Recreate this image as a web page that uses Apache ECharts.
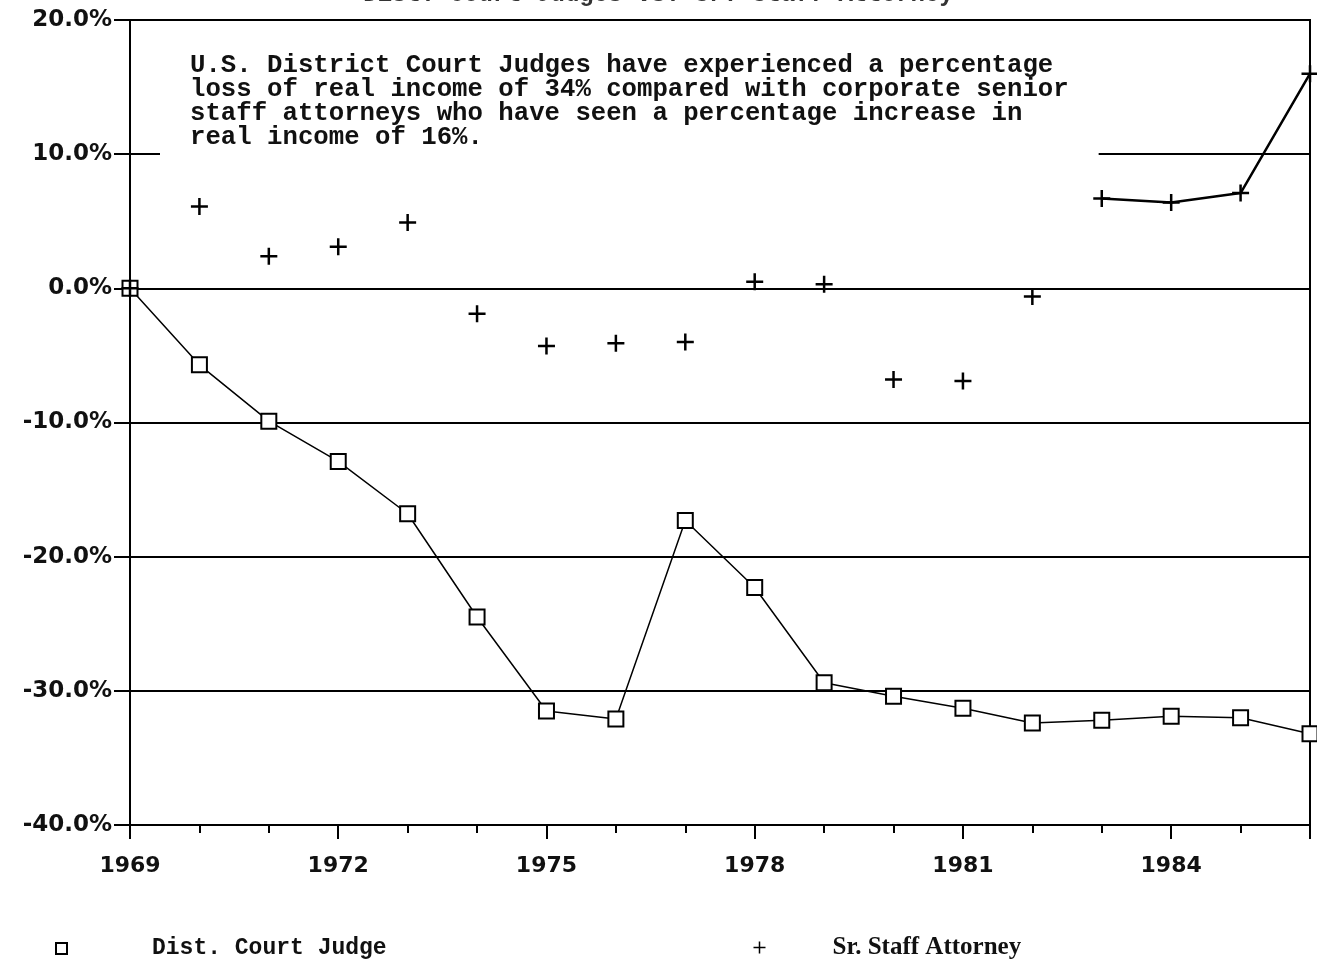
<!DOCTYPE html>
<html>
<head>
<meta charset="utf-8">
<script src="https://cdn.jsdelivr.net/npm/echarts@6/dist/echarts.min.js"></script>
<style>
  html, body { margin: 0; padding: 0; background: #fff; }
  #main { width: 1317px; height: 961px; }
</style>
</head>
<body>
<div id="main"></div>
<script>
  // years on the x axis
  var years = [1969, 1970, 1971, 1972, 1973, 1974, 1975, 1976, 1977,
    1978, 1979, 1980, 1981, 1982, 1983, 1984, 1985, 1986]
  // percentage change in real income
  var judge = [0, -5.7, -9.9, -12.9, -16.8, -24.5, -31.5, -32.1, -17.3,
    -22.3, -29.4, -30.4, -31.3, -32.4, -32.2, -31.9, -32.0, -33.2]
  var attorney = [0, 6.1, 2.4, 3.1, 4.9, -1.9, -4.3, -4.1, -4.0,
    0.5, 0.3, -6.8, -6.9, -0.6, 6.7, 6.4, 7.1, 16.0]
  // only the last stretch of the attorney line survived in the print
  var attorneyVisibleFrom = 1983
  var labelYears = [1969, 1972, 1975, 1978, 1981, 1984]
  var note = 'U.S. District Court Judges have experienced a percentage\n' +
    'loss of real income of 34% compared with corporate senior\n' +
    'staff attorneys who have seen a percentage increase in\n' +
    'real income of 16%.'

  var plusPath = 'path://M5,0 L5,10 M0,5 L10,5'

  function pairs(vals) {
    return years.map(function(y, i) {
      return [y, vals[i]]
    })
  }

  var attorneyTail = years.map(function(y, i) {
    return [y, y >= attorneyVisibleFrom ? attorney[i] : null]
  })

  var chart = echarts.init(document.getElementById('main'))
  chart.setOption({
    animation: false,
    backgroundColor: '#fff',
    title: [{
      text: 'Dist. Court Judges vs. Sr. Staff Attorney',
      left: 'center',
      top: -22,
      textStyle: {
        fontFamily: 'Liberation Mono',
        fontWeight: 'bold',
        fontSize: 24,
        color: '#333'
      }
    }, {
      text: note,
      left: 160,
      top: 50,
      padding: [4, 30, 12, 30],
      backgroundColor: '#fff',
      textStyle: {
        fontFamily: 'Liberation Mono',
        fontWeight: 'bold',
        fontSize: 25.7,
        lineHeight: 24,
        color: '#111'
      }
    }],
    legend: [{
      data: ['Dist. Court Judge'],
      left: 50,
      top: 932,
      icon: 'rect',
      itemWidth: 11,
      itemHeight: 11,
      itemStyle: { color: '#fff', borderColor: '#000', borderWidth: 2 },
      textStyle: {
        fontFamily: 'Liberation Mono',
        fontWeight: 'bold',
        fontSize: 23,
        color: '#111',
        padding: [0, 0, 0, 80]
      }
    }, {
      data: ['Sr. Staff Attorney'],
      left: 746,
      top: 930,
      icon: plusPath,
      itemWidth: 12,
      itemHeight: 14,
      itemStyle: { color: 'none', borderColor: '#000', borderWidth: 1.5 },
      textStyle: {
        fontFamily: 'Liberation Serif',
        fontWeight: 'bold',
        fontSize: 25,
        color: '#111',
        padding: [0, 0, 0, 62]
      }
    }],
    grid: {
      left: 130,
      right: 7,
      top: 20,
      bottom: 136,
      show: true,
      borderColor: '#000',
      borderWidth: 2
    },
    xAxis: [{
      type: 'value',
      min: 1969,
      max: 1986,
      interval: 1,
      axisLine: { onZero: false, lineStyle: { color: '#000', width: 2 } },
      axisTick: { length: 8, lineStyle: { color: '#000', width: 2 } },
      axisLabel: { show: false },
      splitLine: { show: false }
    }, {
      type: 'value',
      min: 1969,
      max: 1986,
      interval: 3,
      position: 'bottom',
      axisLine: { show: false, onZero: false },
      axisTick: { length: 14, lineStyle: { color: '#000', width: 2 } },
      axisLabel: {
        margin: 30,
        fontFamily: 'DejaVu Sans',
        fontWeight: 'bold',
        fontSize: 22,
        color: '#111',
        formatter: function(v) {
          return labelYears.indexOf(v) >= 0 ? String(v) : ''
        }
      },
      splitLine: { show: false }
    }],
    yAxis: {
      type: 'value',
      min: -40,
      max: 20,
      interval: 10,
      axisLine: { lineStyle: { color: '#000', width: 2 } },
      axisTick: { length: 16, lineStyle: { color: '#000', width: 2 } },
      axisLabel: {
        margin: 18,
        fontFamily: 'DejaVu Sans',
        fontWeight: 'bold',
        fontSize: 23,
        color: '#111',
        formatter: function(v) {
          return v.toFixed(1) + '%'
        }
      },
      splitLine: { lineStyle: { color: '#000', width: 2 } }
    },
    series: [{
      name: 'Dist. Court Judge',
      type: 'line',
      data: pairs(judge),
      symbol: 'rect',
      symbolSize: 15,
      itemStyle: { color: '#fff', borderColor: '#000', borderWidth: 2 },
      lineStyle: { color: '#000', width: 1.5 },
      z: 3
    }, {
      name: 'Sr. Staff Attorney',
      type: 'line',
      data: pairs(attorney),
      symbol: plusPath,
      symbolSize: 17,
      itemStyle: { color: 'none', borderColor: '#000', borderWidth: 2.5 },
      lineStyle: { opacity: 0 },
      z: 4
    }, {
      name: 'attorney tail',
      type: 'line',
      data: attorneyTail,
      symbol: 'none',
      lineStyle: { color: '#000', width: 2.5 },
      z: 4
    }]
  })
</script>
</body>
</html>
